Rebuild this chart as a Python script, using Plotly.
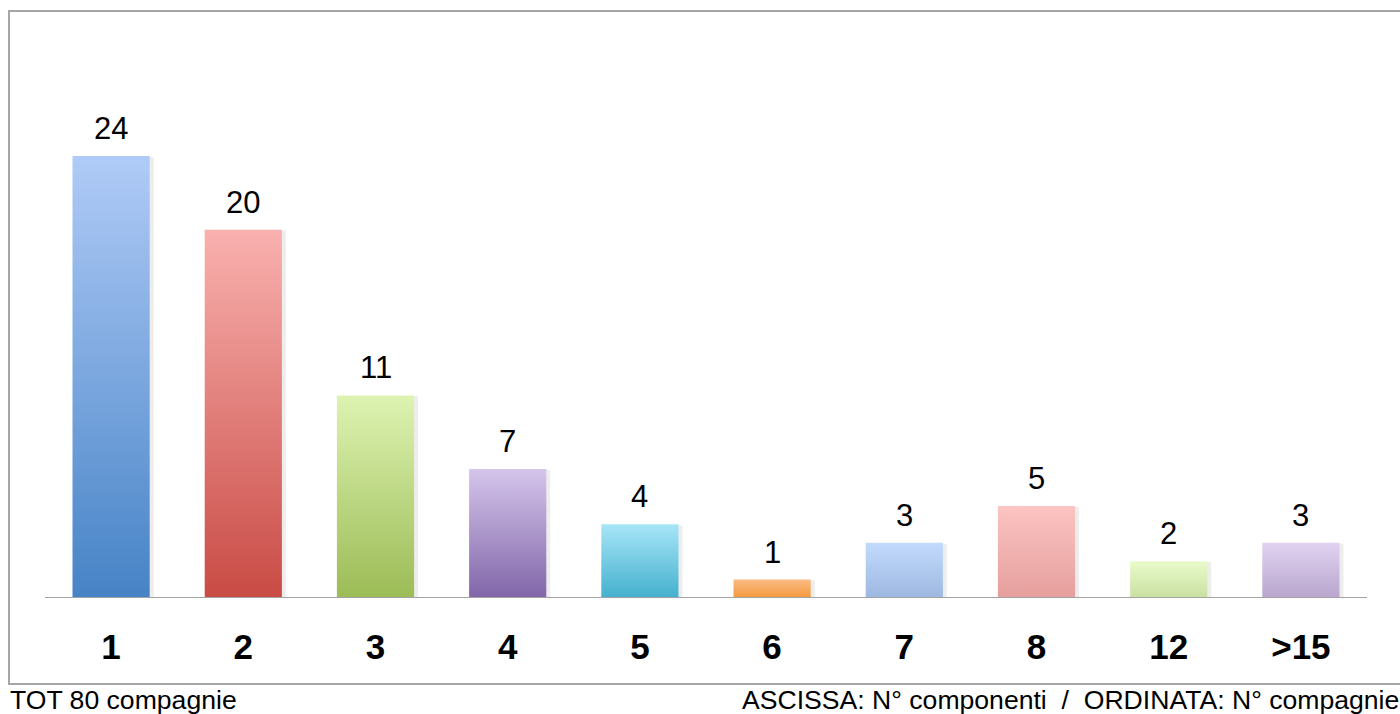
import plotly.graph_objects as go

categories = ["1", "2", "3", "4", "5", "6", "7", "8", "12", ">15"]
values = [24, 20, 11, 7, 4, 1, 3, 5, 2, 3]
top_colors = ["#b0cbf7", "#f9b1af", "#ddf3b2", "#d5c5eb", "#a7e5f8", "#fbbb84",
              "#c2dafc", "#fcc4c2", "#e9fbca", "#e1d2f1"]
bottom_colors = ["#4683c6", "#c94b45", "#9cbc55", "#8166a9", "#44b0cd", "#f4993d",
                 "#9db8e1", "#e59f9d", "#c9e0a2", "#b8a6cd"]

half_w = 0.292
fig = go.Figure()

for i, (cat, v) in enumerate(zip(categories, values)):
    # soft shadow
    fig.add_trace(go.Scatter(
        x=[i - half_w + 0.01, i + half_w + 0.03, i + half_w + 0.03, i - half_w + 0.01, i - half_w + 0.01],
        y=[-0.15, -0.15, v - 0.05, v - 0.05, -0.15],
        mode="lines", line=dict(width=0), fill="toself",
        fillcolor="rgba(0,0,0,0.07)", hoverinfo="skip", showlegend=False))
    fig.add_trace(go.Scatter(
        x=[i - half_w, i + half_w, i + half_w, i - half_w, i - half_w],
        y=[0, 0, v, v, 0],
        mode="lines", line=dict(width=0), fill="toself",
        fillgradient=dict(type="vertical",
                          colorscale=[[0, bottom_colors[i]], [1, top_colors[i]]]),
        name=cat, hoverinfo="skip", showlegend=False))

fig.add_trace(go.Scatter(x=list(range(len(categories))), y=values, mode="markers",
                         marker=dict(size=1, opacity=0), showlegend=False,
                         customdata=categories,
                         hovertemplate="%{customdata}: %{y}<extra></extra>"))

FONT = "Liberation Sans, Arial"
for i, v in enumerate(values):
    fig.add_annotation(x=i, y=v, text=str(v), showarrow=False, yanchor="bottom",
                       yshift=8, font=dict(size=31, color="#000000", family=FONT))

# baseline
fig.add_shape(type="line", xref="x", yref="y", x0=-0.5, x1=len(categories) - 0.5,
              y0=0, y1=0, line=dict(color="#a3a3a3", width=2))

# outer frame
L, R, B, T = 45, 33, 116, 45
W, H = 1400, 714
pw, ph = W - L - R, H - T - B
def px(xp):
    return (xp - L) / pw
def py(yp):
    return (H - B - yp) / ph

fig.add_shape(type="rect", xref="paper", yref="paper",
              x0=px(9), x1=px(1404), y0=py(684), y1=py(11),
              line=dict(color="#a6a6a6", width=2), fillcolor="rgba(0,0,0,0)")

fig.add_annotation(xref="paper", yref="paper", x=px(8), y=py(700),
                   xanchor="left", yanchor="middle", showarrow=False,
                   text="TOT 80 compagnie",
                   font=dict(size=26.6, color="#000000", family=FONT))
fig.add_annotation(xref="paper", yref="paper", x=px(1401), y=py(700),
                   xanchor="right", yanchor="middle", showarrow=False,
                   text="ASCISSA: N° componenti  /  ORDINATA: N° compagnie",
                   font=dict(size=26.6, color="#000000", family=FONT))

fig.update_layout(
    width=W, height=H,
    margin=dict(l=L, r=R, t=T, b=B),
    paper_bgcolor="white", plot_bgcolor="white",
    showlegend=False,
    xaxis=dict(range=[-0.5, len(categories) - 0.5], tickmode="array",
               tickvals=list(range(len(categories))), ticktext=categories,
               showgrid=False, zeroline=False, showline=False, ticks="",
               ticklabelstandoff=25,
               tickfont=dict(size=35, color="#000000", family=FONT, weight="bold")),
    yaxis=dict(range=[0, ph / (442 / 24)], showgrid=False, zeroline=False,
               showline=False, showticklabels=False, ticks=""),
)

fig.write_html("out.html", config={"displayModeBar": False},
               post_script="document.body.style.margin='0';document.body.style.overflow='hidden';")
